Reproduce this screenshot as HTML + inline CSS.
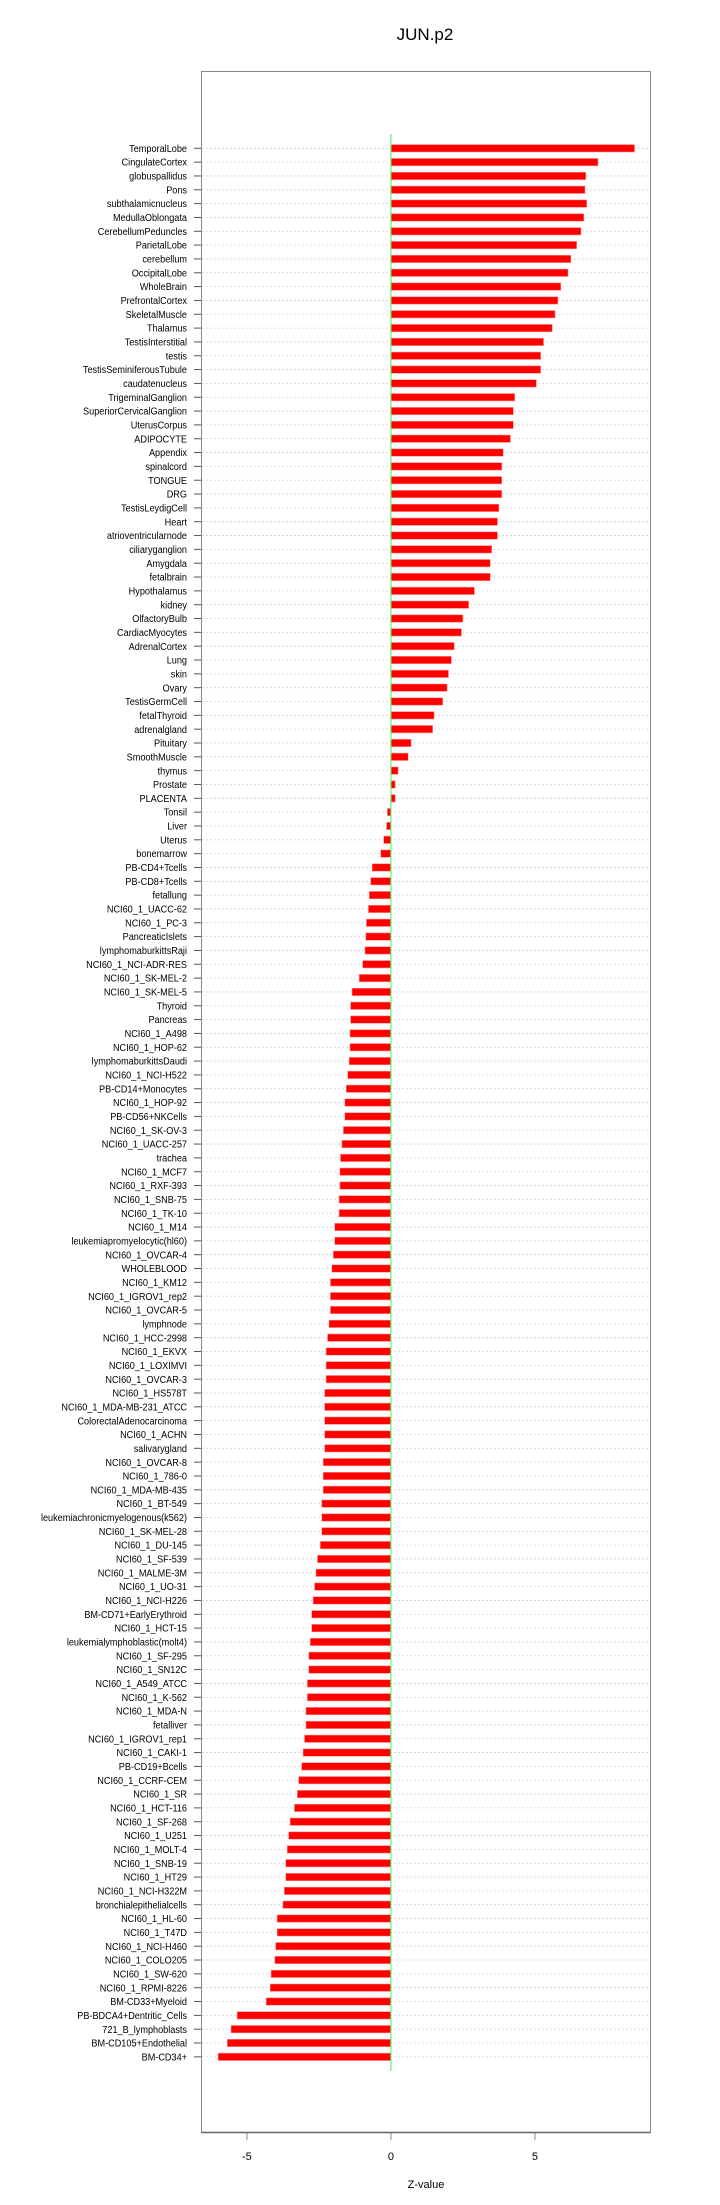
<!DOCTYPE html>
<html><head><meta charset="utf-8"><style>
html,body{margin:0;padding:0;background:#fff;}
svg{display:block;font-family:"Liberation Sans",sans-serif;}
</style></head><body>
<svg id="chart" width="720" height="2205" viewBox="0 0 720 2205">
<text x="425" y="40" font-size="17" text-anchor="middle">JUN.p2</text>
<rect x="201.5" y="71.5" width="449" height="2061" fill="none" stroke="#888" stroke-width="1"/>
<g id="grid"></g><g id="bars"></g><g id="labels"></g><g id="xaxis"></g>
<text x="426" y="2188" font-size="11" text-anchor="middle">Z-value</text>
</svg>
<script>
const categories=["TemporalLobe","CingulateCortex","globuspallidus","Pons","subthalamicnucleus","MedullaOblongata","CerebellumPeduncles","ParietalLobe","cerebellum","OccipitalLobe","WholeBrain","PrefrontalCortex","SkeletalMuscle","Thalamus","TestisInterstitial","testis","TestisSeminiferousTubule","caudatenucleus","TrigeminalGanglion","SuperiorCervicalGanglion","UterusCorpus","ADIPOCYTE","Appendix","spinalcord","TONGUE","DRG","TestisLeydigCell","Heart","atrioventricularnode","ciliaryganglion","Amygdala","fetalbrain","Hypothalamus","kidney","OlfactoryBulb","CardiacMyocytes","AdrenalCortex","Lung","skin","Ovary","TestisGermCell","fetalThyroid","adrenalgland","Pituitary","SmoothMuscle","thymus","Prostate","PLACENTA","Tonsil","Liver","Uterus","bonemarrow","PB-CD4+Tcells","PB-CD8+Tcells","fetallung","NCI60_1_UACC-62","NCI60_1_PC-3","PancreaticIslets","lymphomaburkittsRaji","NCI60_1_NCI-ADR-RES","NCI60_1_SK-MEL-2","NCI60_1_SK-MEL-5","Thyroid","Pancreas","NCI60_1_A498","NCI60_1_HOP-62","lymphomaburkittsDaudi","NCI60_1_NCI-H522","PB-CD14+Monocytes","NCI60_1_HOP-92","PB-CD56+NKCells","NCI60_1_SK-OV-3","NCI60_1_UACC-257","trachea","NCI60_1_MCF7","NCI60_1_RXF-393","NCI60_1_SNB-75","NCI60_1_TK-10","NCI60_1_M14","leukemiapromyelocytic(hl60)","NCI60_1_OVCAR-4","WHOLEBLOOD","NCI60_1_KM12","NCI60_1_IGROV1_rep2","NCI60_1_OVCAR-5","lymphnode","NCI60_1_HCC-2998","NCI60_1_EKVX","NCI60_1_LOXIMVI","NCI60_1_OVCAR-3","NCI60_1_HS578T","NCI60_1_MDA-MB-231_ATCC","ColorectalAdenocarcinoma","NCI60_1_ACHN","salivarygland","NCI60_1_OVCAR-8","NCI60_1_786-0","NCI60_1_MDA-MB-435","NCI60_1_BT-549","leukemiachronicmyelogenous(k562)","NCI60_1_SK-MEL-28","NCI60_1_DU-145","NCI60_1_SF-539","NCI60_1_MALME-3M","NCI60_1_UO-31","NCI60_1_NCI-H226","BM-CD71+EarlyErythroid","NCI60_1_HCT-15","leukemialymphoblastic(molt4)","NCI60_1_SF-295","NCI60_1_SN12C","NCI60_1_A549_ATCC","NCI60_1_K-562","NCI60_1_MDA-N","fetalliver","NCI60_1_IGROV1_rep1","NCI60_1_CAKI-1","PB-CD19+Bcells","NCI60_1_CCRF-CEM","NCI60_1_SR","NCI60_1_HCT-116","NCI60_1_SF-268","NCI60_1_U251","NCI60_1_MOLT-4","NCI60_1_SNB-19","NCI60_1_HT29","NCI60_1_NCI-H322M","bronchialepithelialcells","NCI60_1_HL-60","NCI60_1_T47D","NCI60_1_NCI-H460","NCI60_1_COLO205","NCI60_1_SW-620","NCI60_1_RPMI-8226","BM-CD33+Myeloid","PB-BDCA4+Dentritic_Cells","721_B_lymphoblasts","BM-CD105+Endothelial","BM-CD34+"];
const values=[8.46,7.19,6.77,6.74,6.8,6.7,6.6,6.45,6.25,6.15,5.9,5.8,5.7,5.6,5.3,5.2,5.2,5.05,4.3,4.25,4.25,4.15,3.9,3.85,3.85,3.85,3.75,3.7,3.7,3.5,3.45,3.45,2.9,2.7,2.5,2.45,2.2,2.1,2.0,1.95,1.8,1.5,1.45,0.7,0.6,0.25,0.15,0.15,-0.12,-0.15,-0.25,-0.35,-0.65,-0.7,-0.75,-0.78,-0.85,-0.87,-0.9,-0.98,-1.1,-1.35,-1.4,-1.4,-1.42,-1.42,-1.45,-1.5,-1.55,-1.6,-1.6,-1.65,-1.7,-1.75,-1.77,-1.77,-1.8,-1.8,-1.95,-1.95,-2.0,-2.05,-2.1,-2.1,-2.1,-2.15,-2.2,-2.25,-2.25,-2.25,-2.3,-2.3,-2.3,-2.3,-2.3,-2.35,-2.35,-2.35,-2.4,-2.4,-2.4,-2.45,-2.55,-2.6,-2.65,-2.7,-2.75,-2.75,-2.8,-2.85,-2.85,-2.9,-2.9,-2.95,-2.95,-3.0,-3.05,-3.1,-3.2,-3.25,-3.35,-3.5,-3.55,-3.6,-3.65,-3.65,-3.7,-3.75,-3.95,-3.95,-4.0,-4.03,-4.16,-4.19,-4.33,-5.34,-5.55,-5.68,-6.0];
const xTicks=[-5,0,5];
const NS="http://www.w3.org/2000/svg";
const x=v=>390.9+v*28.8;
const y=i=>148.3+i*13.83;
function mk(tag,attrs,parent){const e=document.createElementNS(NS,tag);for(const k in attrs)e.setAttribute(k,attrs[k]);document.getElementById(parent).appendChild(e);return e;}
categories.forEach((c,i)=>{
  const yy=y(i);
  const g=mk('line',{x1:202,x2:650,y1:yy,y2:yy,stroke:'#d4d4d4','stroke-width':0.8,'stroke-dasharray':'2,2'},'grid');
  
  
  const v=values[i];
  const b=mk('rect',{x:Math.min(x(0),x(v)),y:yy-3.7,width:Math.abs(x(v)-x(0)),height:7.4,fill:'#ff0000',stroke:'#ff9090','stroke-width':0.6},'bars');
  
  
  const t=mk('text',{x:0,y:0,'font-size':10.5,'text-anchor':'end',transform:'translate(187,'+(yy+3.6)+') scale(0.87,1)'},'labels');
  t.textContent=c;
  
  
  const tk=mk('line',{x1:194,x2:201,y1:yy,y2:yy,stroke:'#555','stroke-width':1},'labels');
  
  
});
const z=mk('line',{x1:x(0),x2:x(0),y1:134,y2:2071,stroke:'#66ee66','stroke-width':1.2},'bars');


const ax=mk('line',{x1:201.5,x2:650.5,y1:2132.5,y2:2132.5,stroke:'#666','stroke-width':1.5},'xaxis');


xTicks.forEach(v=>{
  const l=mk('line',{x1:x(v),x2:x(v),y1:2133,y2:2140,stroke:'#888','stroke-width':1},'xaxis');
  
  
  const t=mk('text',{x:x(v),y:2160,'font-size':11,'text-anchor':'middle'},'xaxis');
  t.textContent=v;
  
  
});
</script>
</body></html>
